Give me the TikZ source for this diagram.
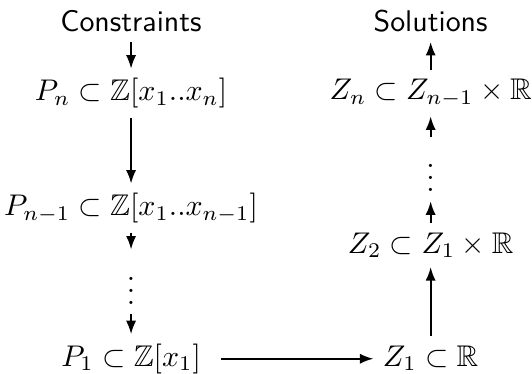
\documentclass[tikz,border=0pt]{standalone}
\usepackage{amssymb,amsmath}
\usetikzlibrary{arrows.meta}

\begin{document}
\begin{tikzpicture}[>={Latex[length=4.5pt]},
every node/.style={anchor=base,inner sep=3pt}]
\useasboundingbox (0,0) rectangle (6.251,4.383);
% left column
\node (C) at (1.54,4.01) {\textsf{Constraints}};
\node (Pn) at (1.54,3.20) {$P_n\subset\mathbb{Z}[x_1..x_n]$};
\node (Pm) at (1.54,1.85) {$P_{n-1}\subset\mathbb{Z}[x_1..x_{n-1}]$};
\node (Ld) at (1.54,0.81) {$\vdots$};
\node (P1) at (1.54,0.08) {$P_1\subset\mathbb{Z}[x_1]$};
% right column
\node (S) at (5.06,4.01) {\textsf{Solutions}};
\node (Zn) at (5.06,3.21) {$Z_n\subset Z_{n-1}\times\mathbb{R}$};
\node (Rd) at (5.06,2.13) {$\vdots$};
\node (Z2) at (5.06,1.41) {$Z_2\subset Z_1\times\mathbb{R}$};
\node (Z1) at (5.06,0.08) {$Z_1\subset\mathbb{R}$};
\draw[semithick,->] (C)--(Pn);
\draw[semithick,->] (Pn)--(Pm);
\draw[semithick,->] (Pm)--(Ld);
\draw[semithick,->] (Ld)--(P1);
\draw[semithick,->,shorten <=3.5pt] (P1)--(P1 -| Z1.west);
\draw[semithick,->] (Z1)--(Z2);
\draw[semithick,->] (Z2)--(Rd);
\draw[semithick,->] (Rd)--(Zn);
\draw[semithick,->] (Zn)--(S);
\end{tikzpicture}
\end{document}
